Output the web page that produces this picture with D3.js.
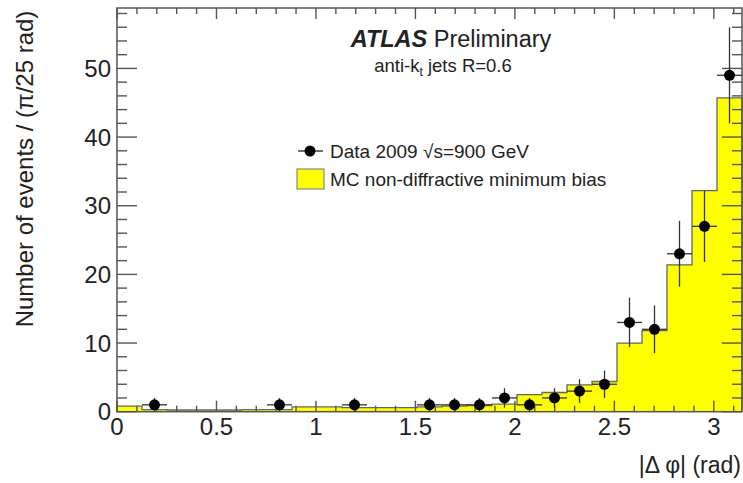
<!DOCTYPE html>
<meta charset="utf-8">
<head>
    <title>ATLAS delta phi</title>
    <script type="text/javascript" src="https://d3js.org/d3.v7.min.js"></script>
    <style>
        body { margin: 0; background: #fff; }
        text { font-family: "Liberation Sans", Arial, sans-serif; fill: #222; }
    </style>
</head>
<body>
    <div id="chart"></div>
    <script>
        // 25 bins of pi/25 between 0 and pi
        var nBins = 25;
        var binWidth = Math.PI / nBins;

        // MC non-diffractive minimum bias, one value per bin
        var mcValues = [0.8, 0.3, 0.25, 0.25, 0.25, 0.3, 0.3, 0.7, 0.7, 0.6,
                        0.6, 0.6, 0.7, 0.8, 0.9, 1.1, 2.5, 2.8, 3.9, 4.4,
                        10.0, 11.8, 21.4, 32.2, 45.7];

        // data 2009, only non-empty bins
        var dataBins   = [1, 6, 9, 12, 13, 14, 15, 16, 17, 18, 19, 20, 21, 22, 23, 24];
        var dataCounts = [1, 1, 1, 1, 1, 1, 2, 1, 2, 3, 4, 13, 12, 23, 27, 49];

        var xTicks = [0, 0.5, 1, 1.5, 2, 2.5, 3];
        var yTicks = [0, 10, 20, 30, 40, 50];

        // note: "top" is reserved on window, so use plot* names
        var width = 743, height = 483;
        var plotLeft = 117, plotRight = 742, plotTop = 8, plotBottom = 411.7;

        var svg = d3.select("#chart").append("svg")
                    .attr("width", width)
                    .attr("height", height);

        var x = d3.scaleLinear().domain([0, Math.PI]).range([plotLeft, plotRight]);
        var y = d3.scaleLinear().domain([0, 58.8]).range([plotBottom, plotTop]);

        // MC histogram
        var mcPoints = [];
        mcValues.forEach(function(v, i) {
            mcPoints.push([i * binWidth, v]);
            mcPoints.push([(i + 1) * binWidth, v]);
        });
        var area = d3.area()
                     .x(function(d) { return x(d[0]); })
                     .y0(y(0))
                     .y1(function(d) { return y(d[1]); });
        svg.append("path")
           .attr("d", area(mcPoints))
           .attr("fill", "#ffff00");
        var line = d3.line()
                     .x(function(d) { return x(d[0]); })
                     .y(function(d) { return y(d[1]); });
        svg.append("path")
           .attr("d", line([[0, 0]].concat(mcPoints).concat([[Math.PI, 0]])))
           .attr("fill", "none")
           .attr("stroke", "#666")
           .attr("stroke-width", 1.3);

        // frame
        svg.append("rect")
           .attr("x", plotLeft).attr("y", plotTop)
           .attr("width", plotRight - plotLeft).attr("height", plotBottom - plotTop)
           .attr("fill", "none")
           .attr("stroke", "#555")
           .attr("stroke-width", 1.5);

        // ticks
        var ticks = svg.append("g").attr("stroke", "#555").attr("stroke-width", 1.4);
        d3.range(0, 32).forEach(function(i) {
            var v = i / 10;
            var len = (i % 5 == 0) ? 11 : 6;
            ticks.append("line")
                 .attr("x1", x(v)).attr("x2", x(v))
                 .attr("y1", plotBottom).attr("y2", plotBottom - len);
            ticks.append("line")
                 .attr("x1", x(v)).attr("x2", x(v))
                 .attr("y1", plotTop).attr("y2", plotTop + len);
        });
        d3.range(0, 30).forEach(function(i) {
            var v = i * 2;
            var len = (v % 10 == 0) ? 20 : 10;
            ticks.append("line")
                 .attr("x1", plotLeft).attr("x2", plotLeft + len)
                 .attr("y1", y(v)).attr("y2", y(v));
            ticks.append("line")
                 .attr("x1", plotRight).attr("x2", plotRight - len)
                 .attr("y1", y(v)).attr("y2", y(v));
        });

        // tick labels
        svg.selectAll(".xlab")
           .data(xTicks)
           .enter().append("text")
           .attr("class", "xlab")
           .attr("x", function(d) { return x(d); })
           .attr("y", 435)
           .attr("text-anchor", "middle")
           .attr("font-size", "24px")
           .attr("fill", "#333")
           .text(function(d) { return d; });
        svg.selectAll(".ylab")
           .data(yTicks)
           .enter().append("text")
           .attr("class", "ylab")
           .attr("x", 111)
           .attr("y", function(d) { return y(d) + 8.5; })
           .attr("text-anchor", "end")
           .attr("font-size", "24px")
           .attr("fill", "#333")
           .text(function(d) { return d; });

        // data points with errors
        var pts = svg.append("g");
        dataBins.forEach(function(b, i) {
            var cx = x((b + 0.5) * binWidth);
            var n = dataCounts[i];
            var err = Math.sqrt(n);
            pts.append("line")
               .attr("x1", x(b * binWidth)).attr("x2", x((b + 1) * binWidth))
               .attr("y1", y(n)).attr("y2", y(n))
               .attr("stroke", "#333").attr("stroke-width", 1.3);
            pts.append("line")
               .attr("x1", cx).attr("x2", cx)
               .attr("y1", y(n - err)).attr("y2", y(n + err))
               .attr("stroke", "#333").attr("stroke-width", 1.3);
            pts.append("circle")
               .attr("cx", cx).attr("cy", y(n))
               .attr("r", 5.5)
               .attr("fill", "#000");
        });

        // axis titles
        svg.append("text")
           .attr("transform", "translate(33,169) rotate(-90)")
           .attr("text-anchor", "middle")
           .attr("font-size", "24px")
           .attr("fill", "#333")
           .text("Number of events / (\u03c0/25 rad)");
        svg.append("text")
           .attr("x", 741).attr("y", 473)
           .attr("text-anchor", "end")
           .attr("font-size", "23px")
           .attr("fill", "#333")
           .text("|\u0394 \u03c6| (rad)");

        // labels
        var title = svg.append("text")
                       .attr("x", 451).attr("y", 47)
                       .attr("text-anchor", "middle")
                       .attr("font-size", "23.5px");
        title.append("tspan").attr("font-weight", "bold").attr("font-style", "italic").text("ATLAS");
        title.append("tspan").text(" Preliminary");

        var sub = svg.append("text")
                     .attr("x", 443).attr("y", 72)
                     .attr("text-anchor", "middle")
                     .attr("font-size", "18.5px")
                     .attr("fill", "#444");
        sub.append("tspan").text("anti-k");
        sub.append("tspan").attr("font-size", "12px").attr("dy", 4).text("t");
        sub.append("tspan").attr("dy", -4).text(" jets R=0.6");

        // legend
        var lg = svg.append("g");
        lg.append("line")
          .attr("x1", 298).attr("x2", 323).attr("y1", 151).attr("y2", 151)
          .attr("stroke", "#222").attr("stroke-width", 1.3);
        lg.append("circle").attr("cx", 310).attr("cy", 151).attr("r", 5.5).attr("fill", "#000");
        lg.append("text")
          .attr("x", 330).attr("y", 157.5)
          .attr("font-size", "19px")
          .attr("fill", "#333")
          .text("Data 2009 \u221As=900 GeV");
        lg.append("rect")
          .attr("x", 297).attr("y", 169).attr("width", 27).attr("height", 20)
          .attr("fill", "#ffff00").attr("stroke", "#888").attr("stroke-width", 1.2);
        lg.append("text")
          .attr("x", 330).attr("y", 185.5)
          .attr("font-size", "19px")
          .attr("fill", "#333")
          .text("MC non-diffractive minimum bias");
    </script>
</body>
</html>
